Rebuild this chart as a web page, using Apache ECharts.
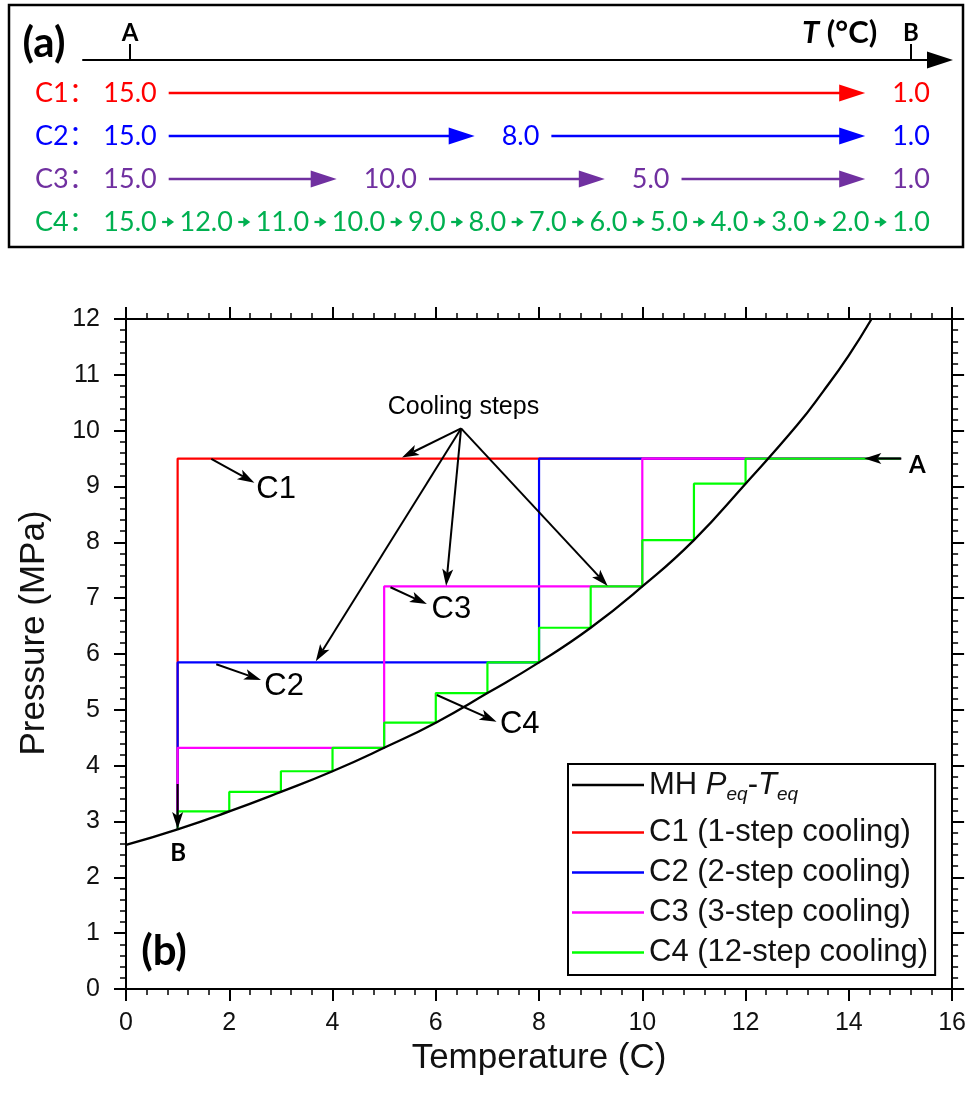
<!DOCTYPE html>
<html>
<head>
<meta charset="utf-8">
<script src="https://cdn.jsdelivr.net/npm/echarts@6/dist/echarts.min.js"></script>
<style>
  html, body { margin: 0; padding: 0; background: #fff; }
  #chart { width: 969px; height: 1095px; }
</style>
</head>
<body>
<div id="chart"></div>
<script>
// Equilibrium P–T curve of the metal hydride (temperature °C, pressure MPa)
const curveTemp = [0, 1, 2, 3, 4, 5, 6, 7, 8, 9, 10, 11, 12, 13, 13.5, 14, 14.44];
const curvePressure = [2.58, 2.86, 3.18, 3.53, 3.90, 4.32, 4.77, 5.30, 5.85, 6.47, 7.21, 8.04, 9.05, 10.1, 10.7, 11.35, 12.0];

// Pressure at the starting point A
const startPressure = 9.5;

// Temperature set points of the four cooling strategies (°C)
const stepsC1 = [15, 1];
const stepsC2 = [15, 8, 1];
const stepsC3 = [15, 10, 5, 1];
const stepsC4 = [15, 12, 11, 10, 9, 8, 7, 6, 5, 4, 3, 2, 1];

const strategyNames = ['C1', 'C2', 'C3', 'C4'];
const seriesNames = ['MH Peq-Teq', 'C1 (1-step cooling)', 'C2 (2-step cooling)', 'C3 (3-step cooling)', 'C4 (12-step cooling)'];

// Axis ranges of panel (b)
const tempAxis = { min: 0, max: 16, interval: 2 };
const pressureAxis = { min: 0, max: 12, interval: 1 };

// Annotation arrows in data units: [fromT, fromP, toT, toP]
const noteArrows = [
  [6.49, 10.04, 5.345, 9.52],
  [6.49, 10.04, 3.676, 5.87],
  [6.49, 10.04, 6.20, 7.22],
  [6.49, 10.04, 9.33, 7.22],
  [1.652, 9.493, 2.487, 9.069],
  [1.748, 5.816, 2.616, 5.535],
  [5.122, 7.195, 5.828, 6.896],
  [6.020, 5.266, 7.177, 4.788],
  [15.017, 9.5, 14.30, 9.5],
  [1.0, 3.672, 1.0, 2.866]
];
// Annotation texts anchored in data units
const noteTexts = [
  { text: 'Cooling steps', at: [6.535, 10.418], align: 'center', kind: 'small' },
  { text: 'C1', at: [2.525, 8.944], align: 'left', kind: 'big' },
  { text: 'C2', at: [2.68, 5.414], align: 'left', kind: 'big' },
  { text: 'C3', at: [5.918, 6.803], align: 'left', kind: 'big' },
  { text: 'C4', at: [7.242, 4.743], align: 'left', kind: 'big' },
  { text: 'A', at: [15.325, 9.385], align: 'center', kind: 'bold' },
  { text: 'B', at: [1.008, 2.43], align: 'center', kind: 'bold' }
];

const sansFont = '"Liberation Sans", Arial, sans-serif';
const calFont = 'Lato, "Noto Sans CJK SC", sans-serif';
const noteFonts = {
  small: '25px "Liberation Sans", Arial, sans-serif',
  big: '31px "Liberation Sans", Arial, sans-serif',
  bold: 'bold 24px Lato, sans-serif'
};

const lineColors = ['#000000', '#ff0000', '#0000ff', '#ff00ff', '#00ff00'];
const rowColors = ['#ff0000', '#0000ff', '#7030a0', '#00b050'];
const rowSteps = [stepsC1, stepsC2, stepsC3, stepsC4];

function eqPressure(t) {
  return curvePressure[curveTemp.indexOf(t)];
}

// Staircase path: isobaric cooling to each set point, then absorption down to the curve
function stairPath(steps) {
  const pts = [[steps[0], startPressure]];
  let p = startPressure;
  for (let i = 1; i < steps.length; i++) {
    const t = steps[i];
    pts.push([t, p]);
    p = eqPressure(t);
    pts.push([t, p]);
  }
  return pts;
}

const measureCtx = document.createElement('canvas').getContext('2d');
function textWidth(s, font) {
  measureCtx.font = font;
  return measureCtx.measureText(s).width;
}

function headPoints(tip, from, len, half, notch) {
  const dx = tip[0] - from[0], dy = tip[1] - from[1];
  const d = Math.hypot(dx, dy) || 1;
  const ux = dx / d, uy = dy / d, px = -uy, py = ux;
  const bx = tip[0] - ux * len, by = tip[1] - uy * len;
  const nx = tip[0] - ux * (len - notch), ny = tip[1] - uy * (len - notch);
  return {
    pts: [[tip[0], tip[1]], [bx + px * half, by + py * half], [nx, ny], [bx - px * half, by - py * half]],
    neck: [nx, ny]
  };
}

const rowFont = '27px Lato, sans-serif';

function renderRow(params, api) {
  const row = params.dataIndex;
  const steps = rowSteps[row];
  const color = rowColors[row];
  const labels = steps.map(v => v.toFixed(1));
  const widths = labels.map(s => textWidth(s, rowFont));
  const n = steps.length;
  const y = api.coord([0, row])[1];
  const children = [];
  const addText = (s, cx) => children.push({
    type: 'text',
    style: { text: s, x: cx, y: y, fill: color, font: rowFont, align: 'center', verticalAlign: 'middle' }
  });
  if (n <= 4) {
    const xs = labels.map((_, i) => api.coord([i / (n - 1), row])[0]);
    labels.forEach((s, i) => addText(s, xs[i]));
    for (let i = 0; i < n - 1; i++) {
      const x1 = xs[i] + widths[i] / 2 + 12;
      const x2 = xs[i + 1] - widths[i + 1] / 2 - 27;
      children.push({ type: 'line', shape: { x1: x1, y1: y, x2: x2 - 20, y2: y }, style: { stroke: color, lineWidth: 2.5 } });
      children.push({ type: 'polygon', shape: { points: [[x2, y], [x2 - 26, y - 8.5], [x2 - 26, y + 8.5]] }, style: { fill: color } });
    }
  } else {
    const xA = api.coord([0, row])[0];
    const xB = api.coord([1, row])[0];
    const left = xA - widths[0] / 2;
    const right = xB + widths[n - 1] / 2;
    const total = widths.reduce((a, b) => a + b, 0);
    const gap = (right - left - total) / (n - 1);
    let cur = left;
    for (let i = 0; i < n; i++) {
      addText(labels[i], cur + widths[i] / 2);
      cur += widths[i];
      if (i < n - 1) {
        const cx = cur + gap / 2;
        children.push({ type: 'line', shape: { x1: cx - 6, y1: y, x2: cx, y2: y }, style: { stroke: color, lineWidth: 2.2 } });
        children.push({ type: 'polygon', shape: { points: [[cx + 6, y], [cx - 1, y - 5], [cx - 1, y + 5]] }, style: { fill: color } });
        cur += gap;
      }
    }
  }
  return { type: 'group', children: children };
}

function renderArrow(params, api) {
  const a = api.coord([api.value(0), api.value(1)]);
  const b = api.coord([api.value(2), api.value(3)]);
  const h = headPoints(b, a, 17, 5.5, 4);
  return {
    type: 'group',
    children: [
      { type: 'line', shape: { x1: a[0], y1: a[1], x2: h.neck[0], y2: h.neck[1] }, style: { stroke: '#000', lineWidth: 2 } },
      { type: 'polygon', shape: { points: h.pts }, style: { fill: '#000' } }
    ]
  };
}

function renderNote(params, api) {
  const note = noteTexts[params.dataIndex];
  const p = api.coord([api.value(0), api.value(1)]);
  return {
    type: 'text',
    style: { text: note.text, x: p[0], y: p[1], fill: '#000', font: noteFonts[note.kind], align: note.align, verticalAlign: 'middle' }
  };
}

const axisBlack = { color: '#000', width: 2 };

function tempAxisCfg(position, showLabels) {
  return {
    gridIndex: 0, type: 'value', position: position,
    min: tempAxis.min, max: tempAxis.max, interval: tempAxis.interval,
    axisLine: { show: true, onZero: false, lineStyle: axisBlack },
    axisTick: { show: true, length: 12, lineStyle: { color: '#000', width: 2 } },
    minorTick: { show: true, splitNumber: 5, length: 6, lineStyle: { color: '#000', width: 1.5 } },
    axisLabel: { show: showLabels, fontSize: 25, margin: 22, color: '#111', fontFamily: sansFont },
    splitLine: { show: false }
  };
}
function pressureAxisCfg(position, showLabels) {
  return {
    gridIndex: 0, type: 'value', position: position,
    min: pressureAxis.min, max: pressureAxis.max, interval: pressureAxis.interval,
    axisLine: { show: true, onZero: false, lineStyle: axisBlack },
    axisTick: { show: true, length: 12, lineStyle: { color: '#000', width: 2 } },
    minorTick: { show: true, splitNumber: 5, length: 6, lineStyle: { color: '#000', width: 1.5 } },
    axisLabel: { show: showLabels, fontSize: 25, margin: 26, color: '#111', fontFamily: sansFont },
    splitLine: { show: false }
  };
}

const xBottom = Object.assign(tempAxisCfg('bottom', true), {
  name: 'Temperature (C)', nameLocation: 'middle', nameGap: 50,
  nameTextStyle: { fontSize: 35, color: '#111', fontFamily: sansFont }
});
const yLeft = Object.assign(pressureAxisCfg('left', true), {
  name: 'Pressure (MPa)', nameLocation: 'middle', nameGap: 74,
  nameTextStyle: { fontSize: 35, color: '#111', fontFamily: sansFont, padding: [0, 0, 0, 42] }
});

const stairs = [stepsC1, stepsC2, stepsC3, stepsC4].map(stairPath);

const chart = echarts.init(document.getElementById('chart'), null, { renderer: 'canvas' });

chart.setOption({
  backgroundColor: '#fff',
  animation: false,
  grid: [
    { left: 126, top: 319, width: 830, height: 670 },
    { left: 83, top: 71.5, width: 857, height: 172 }
  ],
  xAxis: [
    xBottom,
    tempAxisCfg('top', false),
    {
      gridIndex: 1, type: 'value', position: 'top', offset: 11.5,
      min: -0.0602, max: 1.0371,
      axisLine: { show: true, symbol: ['none', 'triangle'], symbolSize: [17, 26], lineStyle: axisBlack },
      axisTick: { show: true, customValues: [0, 1], length: 16, lineStyle: { color: '#000', width: 2 } },
      axisLabel: {
        show: true, customValues: [0, 1], margin: 15,
        formatter: v => (v === 0 ? 'A' : 'B'),
        fontSize: 24, fontWeight: 'bold', fontFamily: calFont, color: '#000'
      },
      splitLine: { show: false }
    }
  ],
  yAxis: [
    yLeft,
    pressureAxisCfg('right', false),
    {
      gridIndex: 1, type: 'category', data: strategyNames, inverse: true,
      axisLine: { show: false }, axisTick: { show: false }, splitLine: { show: false },
      axisLabel: {
        align: 'left', margin: 48, fontSize: 27, fontFamily: calFont,
        formatter: (v, i) => '{c' + i + '|' + v + '：}',
        rich: {
          c0: { color: rowColors[0], fontSize: 27, fontFamily: calFont },
          c1: { color: rowColors[1], fontSize: 27, fontFamily: calFont },
          c2: { color: rowColors[2], fontSize: 27, fontFamily: calFont },
          c3: { color: rowColors[3], fontSize: 27, fontFamily: calFont }
        }
      }
    }
  ],
  legend: [
    {
      data: [seriesNames[0]], orient: 'vertical', left: 568, top: 765.5,
      padding: [0, 0, 0, 4], icon: 'rect', itemWidth: 72, itemHeight: 2.5, selectedMode: false,
      formatter: () => 'MH {i|P}{s|eq}-{i|T}{s|eq}',
      textStyle: {
        fontSize: 31, lineHeight: 30, color: '#111', fontFamily: sansFont,
        rich: {
          i: { fontStyle: 'italic', fontSize: 31, lineHeight: 30, fontFamily: sansFont, color: '#111' },
          s: { fontStyle: 'italic', fontSize: 19, lineHeight: 19, padding: [20, 0, 0, 0], fontFamily: sansFont, color: '#111' }
        }
      }
    },
    {
      data: seriesNames.slice(1), orient: 'vertical', left: 568, top: 764,
      padding: [53, 7, 7, 4], itemGap: 9, icon: 'rect', itemWidth: 72, itemHeight: 2.5, selectedMode: false,
      borderColor: '#000', borderWidth: 2,
      textStyle: { fontSize: 31, lineHeight: 30, color: '#111', fontFamily: sansFont }
    }
  ],
  graphic: [
    { type: 'rect', shape: { x: 9, y: 5, width: 954, height: 242 }, style: { fill: 'none', stroke: '#000', lineWidth: 2.5 }, z: 1 },
    { type: 'text', style: { text: '(a)', x: 44, y: 43, font: 'bold 42px Lato, sans-serif', fill: '#000', align: 'center', verticalAlign: 'middle' } },
    {
      type: 'text',
      style: {
        text: '{t|T} (°C)', x: 802, y: 32.5, font: 'bold 31px Lato, sans-serif', fill: '#000', align: 'left', verticalAlign: 'middle',
        rich: { t: { fontStyle: 'italic', fontWeight: 'bold', fontSize: 31, fontFamily: 'Lato, sans-serif', fill: '#000' } }
      }
    },
    { type: 'text', style: { text: '(b)', x: 164, y: 951, font: 'bold 42px Lato, sans-serif', fill: '#000', align: 'center', verticalAlign: 'middle' } }
  ],
  series: [
    {
      name: seriesNames[0], type: 'line', xAxisIndex: 0, yAxisIndex: 0, z: 4,
      data: curveTemp.map((t, i) => [t, curvePressure[i]]),
      smooth: 0.5, symbol: 'none', showSymbol: false,
      lineStyle: { color: lineColors[0], width: 2.3 }, itemStyle: { color: lineColors[0] }
    },
    ...stairs.map((path, k) => ({
      name: seriesNames[k + 1], type: 'line', xAxisIndex: 0, yAxisIndex: 0, z: 2 + k * 0.01,
      data: path, symbol: 'none', showSymbol: false,
      lineStyle: { color: lineColors[k + 1], width: 2.2 }, itemStyle: { color: lineColors[k + 1] }
    })),
    {
      name: 'arrows', type: 'custom', xAxisIndex: 0, yAxisIndex: 0, z: 6, silent: true,
      data: noteArrows, renderItem: renderArrow, encode: { x: [0, 2], y: [1, 3] }
    },
    {
      name: 'notes', type: 'custom', xAxisIndex: 0, yAxisIndex: 0, z: 6, silent: true,
      data: noteTexts.map(n => n.at), renderItem: renderNote, encode: { x: 0, y: 1 }
    },
    {
      name: 'sequence', type: 'custom', xAxisIndex: 2, yAxisIndex: 2, silent: true,
      data: strategyNames.map((_, i) => [0, i]), renderItem: renderRow, encode: { x: 0, y: 1 }
    }
  ]
});
</script>
</body>
</html>
